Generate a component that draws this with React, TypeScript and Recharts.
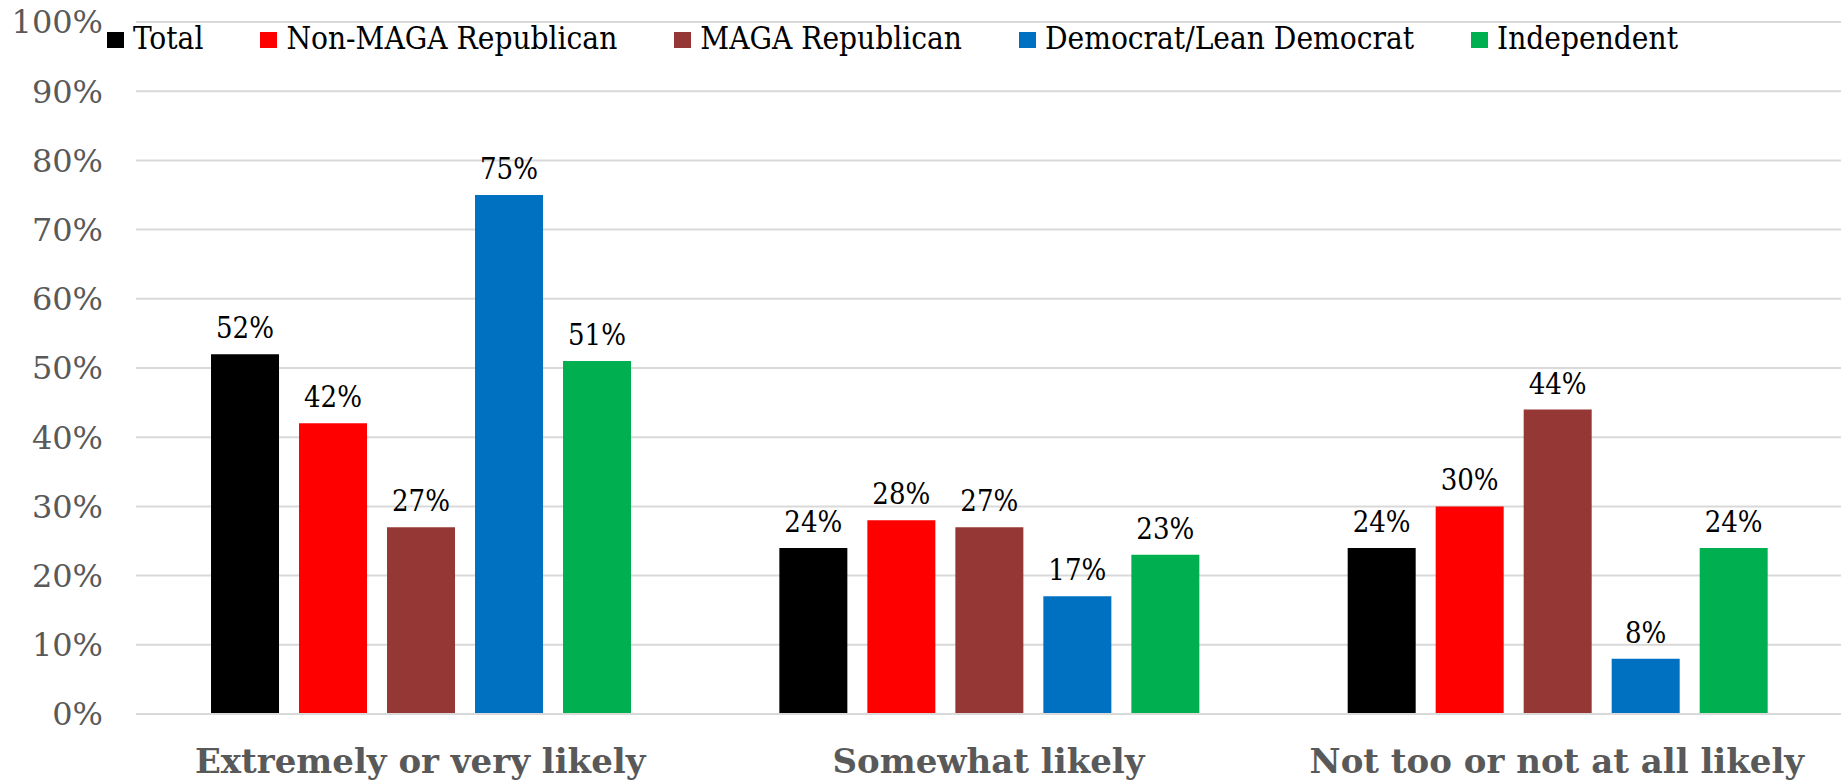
import React from 'react';
import { BarChart, Bar, XAxis, YAxis, CartesianGrid, LabelList } from 'recharts';

const categories = ['Extremely or very likely', 'Somewhat likely', 'Not too or not at all likely'];
const seriesNames = ['Total', 'Non-MAGA Republican', 'MAGA Republican', 'Democrat/Lean Democrat', 'Independent'];
const seriesColors = ['#000000', '#FF0000', '#953735', '#0070C0', '#00B050'];

const total = [52, 24, 24];
const nonMaga = [42, 28, 30];
const maga = [27, 27, 44];
const democrat = [75, 17, 8];
const independent = [51, 23, 24];

const yTicks = [0, 10, 20, 30, 40, 50, 60, 70, 80, 90, 100];
const edgeTicks = [0, 1, 2, 3];

const seriesValues = [total, nonMaga, maga, democrat, independent];

const data = categories.map((name, i) => {
    const row: Record<string, any> = { name };
    seriesValues.forEach((vals, s) => {
        row[`s${s}`] = vals[i];
    });
    return row;
});

const serif = "'DejaVu Serif', serif";
const narrowSerif = "'DejaVu Serif Condensed', 'DejaVu Serif', serif";

export default function App() {
    return (
        <div style={{ position: 'absolute', left: 0, top: 0, width: 1841, height: 781, background: '#fff' }}>
            <BarChart
                width={1841}
                height={781}
                data={data}
                margin={{ top: 22, right: 0, bottom: 0, left: 0 }}
                barCategoryGap="13.2%"
                barGap={20}
            >
                <CartesianGrid vertical={false} stroke="#d9d9d9" strokeWidth={2} xAxisId="cat" />
                {/* hidden numeric axis, only for the tick marks between categories */}
                <XAxis
                    xAxisId="edge"
                    type="number"
                    domain={[0, 3]}
                    ticks={edgeTicks}
                    tick={false}
                    axisLine={false}
                    tickLine={{ stroke: '#d9d9d9', strokeWidth: 2 }}
                    tickSize={13}
                    height={0}
                />
                <XAxis
                    xAxisId="cat"
                    dataKey="name"
                    interval={0}
                    tickLine={false}
                    axisLine={{ stroke: '#d9d9d9', strokeWidth: 2 }}
                    tickSize={0}
                    tickMargin={35}
                    height={67}
                    tick={{ fill: '#595959', fontFamily: serif, fontSize: 34, fontWeight: 'bold' }}
                />
                <YAxis
                    domain={[0, 100]}
                    ticks={yTicks}
                    tickFormatter={(v: number) => `${v}%`}
                    width={136}
                    axisLine={false}
                    tickLine={false}
                    tickSize={0}
                    tickMargin={33}
                    tick={{ fill: '#595959', fontFamily: serif, fontSize: 32 }}
                />
                {seriesNames.map((n, s) => (
                    <Bar key={n} xAxisId="cat" dataKey={`s${s}`} name={n} fill={seriesColors[s]} isAnimationActive={false}>
                        <LabelList
                            dataKey={`s${s}`}
                            position="top"
                            offset={16}
                            formatter={(v: number) => `${v}%`}
                            style={{ fill: '#000', fontFamily: narrowSerif, fontStretch: 'condensed', fontSize: 29 }}
                        />
                    </Bar>
                ))}
            </BarChart>

            {/* legend */}
            <div
                style={{
                    position: 'absolute',
                    top: 21,
                    left: 107,
                    display: 'flex',
                    alignItems: 'flex-start',
                    fontFamily: narrowSerif,
                    fontStretch: 'condensed',
                    fontSize: 31.3,
                    lineHeight: '35px',
                    color: '#000',
                    whiteSpace: 'nowrap',
                }}
            >
                {seriesNames.map((n, s) => (
                    <div key={n} style={{ display: 'flex', alignItems: 'flex-start', marginRight: 57 }}>
                        <span style={{ width: 17, height: 16, marginTop: 11, marginRight: 9, background: seriesColors[s] }} />
                        <span>{n}</span>
                    </div>
                ))}
            </div>
        </div>
    );
}
